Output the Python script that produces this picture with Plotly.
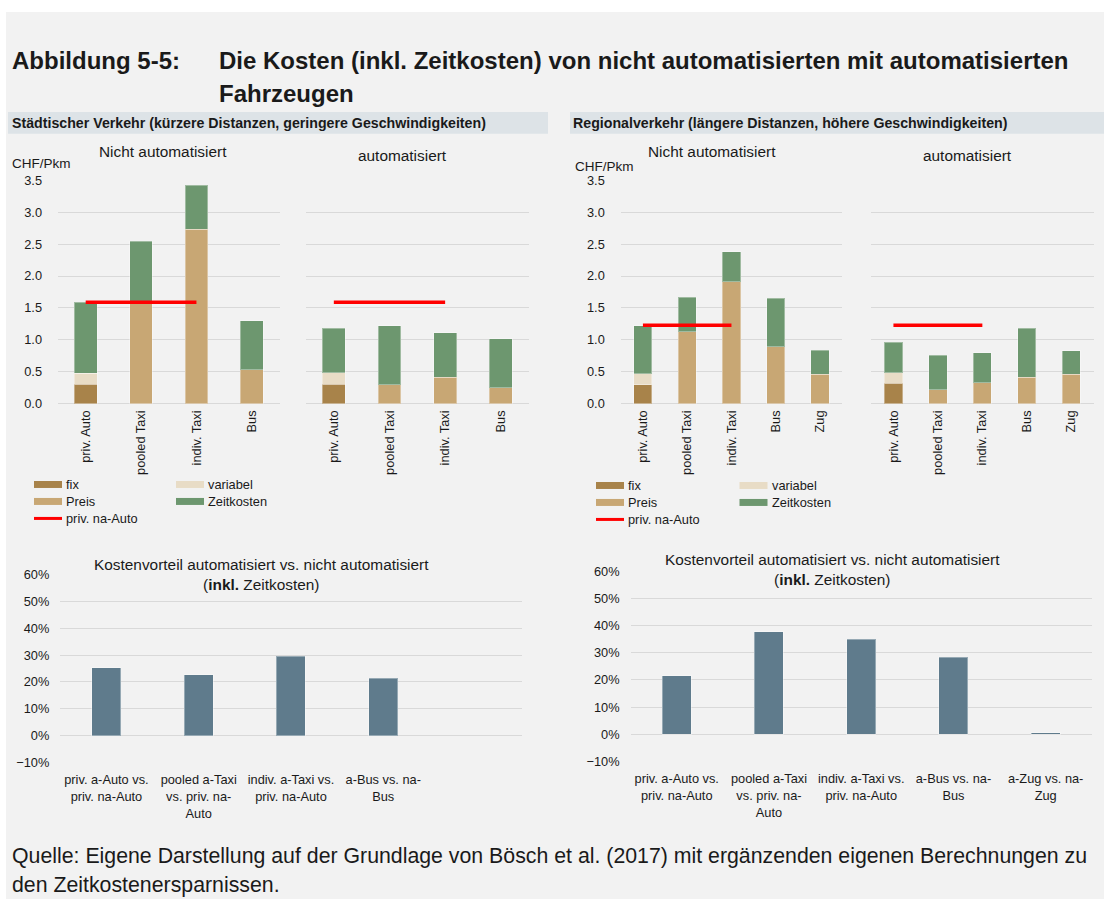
import plotly.graph_objects as go

W, H = 1104, 899

# Städtischer Verkehr (CHF/Pkm)
stadt_kat = ["priv. Auto", "pooled Taxi", "indiv. Taxi", "Bus"]
stadt_na_fix = [0.31, None, None, None]
stadt_na_variabel = [0.17, None, None, None]
stadt_na_preis = [None, 1.59, 2.73, 0.53]
stadt_na_zeit = [1.11, 0.95, 0.69, 0.77]
stadt_a_fix = [0.31, None, None, None]
stadt_a_variabel = [0.18, None, None, None]
stadt_a_preis = [None, 0.30, 0.42, 0.25]
stadt_a_zeit = [0.69, 0.92, 0.69, 0.77]
stadt_na_auto = [1.59, 1.59, 1.59]

# Regionalverkehr (CHF/Pkm)
regio_kat = ["priv. Auto", "pooled Taxi", "indiv. Taxi", "Bus", "Zug"]
regio_na_fix = [0.30, None, None, None, None]
regio_na_variabel = [0.17, None, None, None, None]
regio_na_preis = [None, 1.13, 1.91, 0.89, 0.46]
regio_na_zeit = [0.75, 0.54, 0.47, 0.76, 0.38]
regio_a_fix = [0.32, None, None, None, None]
regio_a_variabel = [0.17, None, None, None, None]
regio_a_preis = [None, 0.22, 0.33, 0.42, 0.46]
regio_a_zeit = [0.47, 0.54, 0.47, 0.76, 0.37]
regio_na_auto = [1.23, 1.23, 1.23]

# Kostenvorteil automatisiert vs. nicht automatisiert
stadt_vorteil_kat = ["priv. a-Auto vs.<br>priv. na-Auto", "pooled a-Taxi<br>vs. priv. na-<br>Auto",
                     "indiv. a-Taxi vs.<br>priv. na-Auto", "a-Bus vs. na-<br>Bus"]
stadt_vorteil = [0.253, 0.227, 0.296, 0.213]
regio_vorteil_kat = ["priv. a-Auto vs.<br>priv. na-Auto", "pooled a-Taxi<br>vs. priv. na-<br>Auto",
                     "indiv. a-Taxi vs.<br>priv. na-Auto", "a-Bus vs. na-<br>Bus", "a-Zug vs. na-<br>Zug"]
regio_vorteil = [0.215, 0.376, 0.350, 0.283, 0.006]

FONT = "Liberation Sans, Arial, sans-serif"
C_FIX = "#a8834a"
C_VAR = "#e8dcc6"
C_PREIS = "#c8a774"
C_ZEIT = "#6d976f"
C_ROT = "#ff0000"
C_VORTEIL = "#5f7b8c"
GRID = "#d9d9d9"
BG = "#f2f2f2"
TXT = "#1a1a1a"


def px(x):
    return x / W


def py(y):
    # the photographed page comes out a little squeezed vertically, so correct for that
    return 1 - (y - 7) / 0.9844 / H


fig = go.Figure()

edge = dict(color="rgba(255,255,255,0.35)", width=1)

panels = [
    ("x", "y", stadt_kat, stadt_na_fix, stadt_na_variabel, stadt_na_preis, stadt_na_zeit, stadt_na_auto),
    ("x2", "y2", stadt_kat, stadt_a_fix, stadt_a_variabel, stadt_a_preis, stadt_a_zeit, stadt_na_auto),
    ("x3", "y3", regio_kat, regio_na_fix, regio_na_variabel, regio_na_preis, regio_na_zeit, regio_na_auto),
    ("x4", "y4", regio_kat, regio_a_fix, regio_a_variabel, regio_a_preis, regio_a_zeit, regio_na_auto),
]
for xa, ya, kat, fix, var, preis, zeit, rot in panels:
    for name, vals, col in [("fix", fix, C_FIX), ("variabel", var, C_VAR),
                            ("Preis", preis, C_PREIS), ("Zeitkosten", zeit, C_ZEIT)]:
        fig.add_trace(go.Bar(x=kat, y=vals, name=name, marker=dict(color=col, line=edge),
                             width=0.41, xaxis=xa, yaxis=ya, showlegend=False))
    fig.add_trace(go.Scatter(x=kat[:3], y=rot, mode="lines", name="priv. na-Auto",
                             line=dict(color=C_ROT, width=3.5), xaxis=xa, yaxis=ya,
                             showlegend=False))

fig.add_trace(go.Bar(x=stadt_vorteil_kat, y=stadt_vorteil, marker=dict(color=C_VORTEIL, line=edge),
                     width=0.315, xaxis="x5", yaxis="y5", showlegend=False))
fig.add_trace(go.Bar(x=regio_vorteil_kat, y=regio_vorteil, marker=dict(color=C_VORTEIL, line=edge),
                     width=0.315, xaxis="x6", yaxis="y6", showlegend=False))

tickfont = dict(family=FONT, size=12.8, color=TXT)

top_y = [py(403.3), py(179.3)]
xdoms = {
    "xaxis": [px(58), px(279.5)],
    "xaxis2": [px(306), px(528.6)],
    "xaxis3": [px(620.8), px(842.1)],
    "xaxis4": [px(871.2), px(1093.5)],
    "xaxis5": [px(60.3), px(521.6)],
    "xaxis6": [px(630.6), px(1091.8)],
}
layout_axes = {}
for i, (k, dom) in enumerate(xdoms.items(), start=1):
    yk = "yaxis" if i == 1 else "yaxis%d" % i
    anchor = "y" if i == 1 else "y%d" % i
    xanchor = "x" if i == 1 else "x%d" % i
    if i <= 4:
        layout_axes[k] = dict(domain=dom, anchor=anchor, tickangle=-90, tickfont=tickfont,
                              showgrid=False, showline=False, ticks="", ticklabelstandoff=3)
        layout_axes[yk] = dict(domain=top_y, anchor=xanchor, range=[0, 3.5], dtick=0.5,
                               tickformat=".1f", showgrid=True, gridcolor=GRID, gridwidth=1,
                               zeroline=True, zerolinecolor=GRID, zerolinewidth=1,
                               showticklabels=(i in (1, 3)), tickfont=tickfont, ticks="",
                               ticklabelstandoff=15)
    else:
        ydom = [py(762.3), py(574.3)] if i == 5 else [py(761.3), py(570.7)]
        layout_axes[k] = dict(domain=dom, anchor=anchor, range=[-0.5, 4.5], tickfont=tickfont,
                              showgrid=False, showline=False, ticks="", ticklabelstandoff=8)
        layout_axes[yk] = dict(domain=ydom, anchor=xanchor, range=[-0.1, 0.6],
                               tickvals=[-0.1, 0, 0.1, 0.2, 0.3, 0.4, 0.5, 0.6], tickformat=".0%",
                               showgrid=True, gridcolor=GRID, gridwidth=1, zeroline=True,
                               zerolinecolor=GRID, zerolinewidth=1, tickfont=tickfont, ticks="",
                               ticklabelstandoff=10)

annotations = []


def text(t, x, y, size, xanchor="left", yanchor="middle", color=TXT, align="left"):
    annotations.append(dict(text=t, x=px(x), y=py(y), xref="paper", yref="paper",
                            xanchor=xanchor, yanchor=yanchor, showarrow=False, align=align,
                            font=dict(family=FONT, size=size, color=color)))


text("<b>Abbildung 5-5:</b>", 10, 60, 24)
text("<b>Die Kosten (inkl. Zeitkosten) von nicht automatisierten mit automatisierten</b>", 217, 60, 24)
text("<b>Fahrzeugen</b>", 217, 93, 24)
text("<b>Städtischer Verkehr (kürzere Distanzen, geringere Geschwindigkeiten)</b>", 10, 122.5, 14.2)
text("<b>Regionalverkehr (längere Distanzen, höhere Geschwindigkeiten)</b>", 571, 122.5, 14.2)

text("Nicht automatisiert", 163, 151, 15.4, xanchor="center")
text("automatisiert", 402.5, 155, 15.4, xanchor="center")
text("Nicht automatisiert", 711.7, 151, 15.4, xanchor="center")
text("automatisiert", 967.9, 155, 15.4, xanchor="center")
text("CHF/Pkm", 10, 163, 13.5)
text("CHF/Pkm", 573, 166, 13.5)

text("Kostenvorteil automatisiert vs. nicht automatisiert<br>(<b>inkl.</b> Zeitkosten)",
     261.7, 574, 15.4, xanchor="center", align="center")
text("Kostenvorteil automatisiert vs. nicht automatisiert<br>(<b>inkl.</b> Zeitkosten)",
     832.2, 569, 15.4, xanchor="center", align="center")

text("Quelle: Eigene Darstellung auf der Grundlage von Bösch et al. (2017) mit ergänzenden eigenen "
     "Berechnungen zu", 10, 856, 21.3)
text("den Zeitkostenersparnissen.", 10, 885, 21.3)

shapes = [
    dict(type="rect", xref="paper", yref="paper", x0=0, x1=1, y0=py(11), y1=1.05,
         fillcolor="white", line=dict(width=0), layer="below"),
    dict(type="rect", xref="paper", yref="paper", x0=0, x1=px(6), y0=-0.05, y1=1.05,
         fillcolor="white", line=dict(width=0), layer="below"),
    dict(type="rect", xref="paper", yref="paper", x0=px(8), x1=px(548), y0=py(133), y1=py(111),
         fillcolor="#dde3e7", line=dict(width=0), layer="below"),
    dict(type="rect", xref="paper", yref="paper", x0=px(570), x1=1, y0=py(133), y1=py(111),
         fillcolor="#dde3e7", line=dict(width=0), layer="below"),
]

# legends (two identical ones, one below each upper panel pair)
legend_items = [("fix", C_FIX, 0, 0), ("variabel", C_VAR, 1, 0),
                ("Preis", C_PREIS, 0, 1), ("Zeitkosten", C_ZEIT, 1, 1),
                ("priv. na-Auto", C_ROT, 0, 2)]
for x0, y0, colw in [(34, 484, 142), (596, 485, 143.5)]:
    for name, col, c, r in legend_items:
        lx = x0 + c * colw
        ly = y0 + r * 17
        if name == "priv. na-Auto":
            shapes.append(dict(type="line", xref="paper", yref="paper", x0=px(lx), x1=px(lx + 28),
                               y0=py(ly), y1=py(ly), line=dict(color=col, width=3)))
        else:
            shapes.append(dict(type="rect", xref="paper", yref="paper", x0=px(lx), x1=px(lx + 28),
                               y0=py(ly + 3.5), y1=py(ly - 3.5), fillcolor=col, line=dict(width=0)))
        text(name, lx + 30, ly, 12.8)

fig.update_layout(
    width=W, height=H,
    margin=dict(l=0, r=0, t=0, b=0),
    paper_bgcolor=BG, plot_bgcolor="rgba(0,0,0,0)",
    barmode="stack",
    showlegend=False,
    font=dict(family=FONT, size=12, color=TXT),
    annotations=annotations,
    shapes=shapes,
    **layout_axes,
)

# pin the figure to the top-left corner of the window; page white on top, grey below
pin = ("var d=document.getElementsByClassName('plotly-graph-div')[0];"
       "d.style.position='fixed';d.style.left='0';d.style.top='0';"
       "document.body.style.margin='0';document.body.style.overflow='hidden';"
       "document.documentElement.style.height='100%';"
       "document.documentElement.style.background="
       "'linear-gradient(#ffffff 0%, #ffffff 50%, #f2f2f2 50%, #f2f2f2 100%)';")
fig.write_html("out.html", config={"displayModeBar": False}, post_script=pin)
